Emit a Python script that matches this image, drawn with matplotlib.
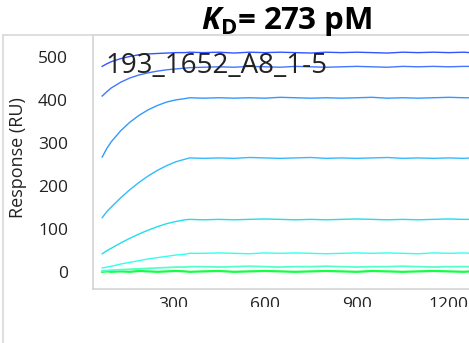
import matplotlib
matplotlib.use('Agg')
import matplotlib.pyplot as plt
from matplotlib.lines import Line2D
from matplotlib.patches import Rectangle

plt.rcParams['font.family'] = ['Open Sans', 'DejaVu Sans']
plt.rcParams['mathtext.fontset'] = 'custom'
plt.rcParams['mathtext.it'] = 'Open Sans:bold:italic'
plt.rcParams['mathtext.rm'] = 'Open Sans:bold'
plt.rcParams['mathtext.bf'] = 'Open Sans:bold'

# sensorgram readings (time s, response RU)
t = [70, 85, 100, 130, 160, 190, 220, 250, 280, 310, 340, 355,
     400, 450, 500, 550, 600, 650, 700, 750, 800, 850, 900, 950,
     1000, 1050, 1100, 1150, 1200, 1250, 1270]

c1 = [478, 484, 489, 496, 501, 505, 507, 508, 509, 510, 510, 511,
      510, 511, 509, 511, 510, 511, 510, 509, 511, 510, 511, 510,
      509, 511, 510, 511, 510, 511, 510]
c2 = [409, 419, 428, 441, 451, 458, 463, 467, 470, 472, 474, 475,
      476, 477, 476, 478, 477, 476, 478, 477, 476, 477, 478, 477,
      476, 478, 477, 478, 477, 478, 478]
c3 = [267, 287, 303, 328, 348, 364, 377, 387, 395, 400, 403, 405,
      404, 405, 404, 405, 404, 406, 405, 404, 405, 404, 405, 406,
      404, 405, 404, 405, 406, 405, 405]
c4 = [126, 140, 151, 172, 191, 208, 223, 236, 247, 256, 262, 265,
      264, 265, 264, 266, 265, 264, 265, 266, 264, 265, 264, 265,
      266, 264, 265, 264, 265, 264, 265]
c5 = [42, 49, 55, 67, 78, 88, 97, 105, 112, 117, 121, 122,
      121, 122, 121, 122, 123, 122, 121, 122, 121, 122, 123, 122,
      121, 122, 121, 122, 123, 122, 122]
c6 = [9, 11, 13, 18, 22, 26, 30, 33, 36, 39, 41, 43,
      43, 44, 43, 42, 44, 43, 44, 43, 42, 43, 44, 43,
      44, 43, 42, 44, 43, 44, 43]
c7 = [2, 3, 4, 5, 6, 7, 8, 9, 10, 11, 11, 12,
      12, 11, 12, 13, 12, 11, 12, 12, 13, 12, 11, 12,
      12, 13, 12, 11, 12, 12, 12]
c8 = [0, 1, 0, 1, 0, 2, 1, 0, 1, 2, 1, 0,
      1, 2, 0, 1, 2, 1, 0, 1, 2, 1, 0, 2,
      1, 0, 1, 2, 1, 0, 1]

curves = [c1, c2, c3, c4, c5, c6, c7, c8]
colors = ['#3355ff', '#4477ff', '#3399ff', '#33bbff',
          '#22ddee', '#33ffee', '#55ffcc', '#11ff44']
widths = [1, 1, 1, 1, 1, 1, 1.3, 1.6]

yticks = [0, 100, 200, 300, 400, 500]
xticks = [300, 600, 900, 1200]

W, H = 469, 343
fig = plt.figure(figsize=(W / 100, H / 100), dpi=100)
ax = fig.add_axes([93 / W, (H - 289) / H, 1 - 93 / W, (289 - 35) / H])

for y, col, lw in zip(curves[::-1], colors[::-1], widths[::-1]):
    ax.plot(t, y, color=col, lw=lw)

ax.set_xlim(40, 1266)
ax.set_ylim(-40, 551)
ax.set_xticks(xticks)
ax.set_yticks(yticks)
ax.tick_params(length=0, labelsize=12.5, labelcolor='#222222')
ax.tick_params(axis='y', pad=18)
ax.tick_params(axis='x', pad=6)
for s in ['left', 'bottom', 'top']:
    ax.spines[s].set_color('#d4d4d4')
    ax.spines[s].set_linewidth(1.2)
ax.spines['right'].set_visible(False)

ax.text(79, 462, '193_1652_A8_1-5', fontsize=20, color='#222222',
        va='baseline', ha='left')

# cut-off of the x tick labels
fig.patches.append(Rectangle((20 / W, 0), 1, (H - 307) / H,
                             transform=fig.transFigure, facecolor='white',
                             edgecolor='none', zorder=5))
# outer frame
fig.add_artist(Line2D([2.5 / W, 2.5 / W], [0, 1 - 35 / H], color='#d8d8d8',
                      lw=1.2, transform=fig.transFigure, zorder=6))
fig.add_artist(Line2D([2.5 / W, 93 / W], [1 - 35 / H, 1 - 35 / H],
                      color='#d8d8d8', lw=1.2, transform=fig.transFigure))

fig.text(18 / W, 1 - 158 / H, 'Response (RU)', rotation=90, fontsize=13,
         color='#222222', ha='center', va='center')
fig.text(287 / W, 1 - 29 / H, r'$K_{\mathrm{D}}$= 273 pM', fontsize=22.5,
         fontweight='bold', ha='center', va='baseline')

fig.savefig('out.png', dpi=100)
